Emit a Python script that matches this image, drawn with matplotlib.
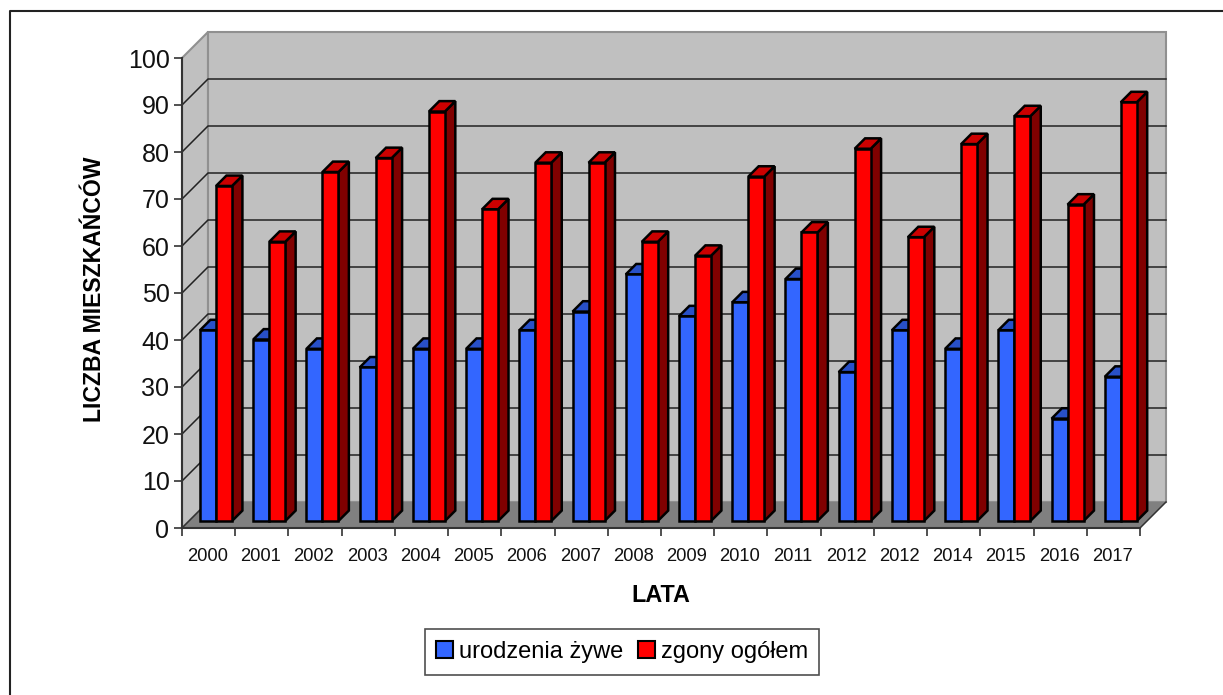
import matplotlib
matplotlib.use("Agg")
import matplotlib.pyplot as plt
from matplotlib.lines import Line2D
from matplotlib.patches import Patch, Polygon

plt.rcParams['font.family'] = ['Liberation Sans', 'DejaVu Sans']

years = ['2000', '2001', '2002', '2003', '2004', '2005', '2006', '2007', '2008',
         '2009', '2010', '2011', '2012', '2012', '2014', '2015', '2016', '2017']
births = [41, 39, 37, 33, 37, 37, 41, 45, 53, 44, 47, 52, 32, 41, 37, 41, 22, 31]
deaths = [72, 60, 75, 78, 88, 67, 77, 77, 60, 57, 74, 62, 80, 61, 81, 87, 68, 90]
y_ticks = list(range(0, 101, 10))

W, H = 1223, 695
fig = plt.figure(figsize=(W / 100, H / 100), dpi=100)
ax = fig.add_axes([182 / W, 1 - 528 / H, (1140 - 182) / W, (528 - 58) / H])
ax.set_xlim(0, len(years))
ax.set_ylim(0, 100)
ax.patch.set_visible(False)

# size of the 3d depth in data units
dx = 26 / (958 / len(years))
dy = 26 / (470 / 100)


def pt(x, v, d=0.0):
    return (x + d * dx, v + d * dy)


def face(points, color, edge='black', lw=1.8, z=3):
    ax.add_patch(Polygon(points, closed=True, facecolor=color, edgecolor=edge,
                         linewidth=lw, joinstyle='miter', clip_on=False, zorder=z))


n = len(years)
# walls and floor
face([pt(0, 0), pt(0, 100), pt(0, 100, 1), pt(0, 0, 1)], '#C0C0C0', '#909090', 1.5, 1)
face([pt(0, 0, 1), pt(0, 100, 1), pt(n, 100, 1), pt(n, 0, 1)], '#C0C0C0', '#909090', 1.5, 1)
face([pt(0, 0), pt(n, 0), pt(n, 0, 1), pt(0, 0, 1)], '#808080', 'none', 0, 1)
for v in y_ticks[1:-1]:
    ax.plot(*zip(pt(0, v), pt(0, v, 1), pt(n, v, 1)), color='#222222', lw=1.1,
            clip_on=False, zorder=2)
ax.plot(*zip(pt(n, 0), pt(n, 0, 1)), color='#333333', lw=1.1, clip_on=False, zorder=2)
ax.plot(*zip(pt(0, 0), pt(0, 0, 1)), color='#333333', lw=1.1, clip_on=False, zorder=2)

# bars, scale of the bars is a bit flatter than the axis
bar_w = 16 / (958 / n)
d0, d1 = 0.27, 0.67
scale = 0.99


def bar(x, v, front, top, side, z):
    v = v * scale
    face([pt(x + bar_w, 0, d0), pt(x + bar_w, v, d0), pt(x + bar_w, v, d1), pt(x + bar_w, 0, d1)], side, z=z)
    face([pt(x, v, d0), pt(x + bar_w, v, d0), pt(x + bar_w, v, d1), pt(x, v, d1)], top, z=z)
    face([pt(x, 0, d0), pt(x + bar_w, 0, d0), pt(x + bar_w, v, d0), pt(x, v, d0)], front, z=z)


for i in range(n):
    x0 = i + 11 / (958 / n)
    bar(x0, births[i], '#3366FF', '#2850C8', '#1F3F99', 3 + i * 0.01)
    bar(x0 + bar_w, deaths[i], '#FF0000', '#CC0000', '#800000', 3 + i * 0.01 + 0.005)

# axes
for s in ['top', 'right']:
    ax.spines[s].set_visible(False)
for s in ['left', 'bottom']:
    ax.spines[s].set_color('#333333')
    ax.spines[s].set_linewidth(1.5)
    ax.spines[s].set_zorder(5)
ax.set_yticks(y_ticks)
ax.tick_params(axis='y', labelsize=18, length=6, width=1.2, color='#333333', pad=3, labelcolor='#111111')
ax.set_xticks(range(n + 1))
ax.set_xticklabels([])
ax.tick_params(axis='x', length=6, width=1.2, color='#333333')
for i, y in enumerate(years):
    ax.text(i + 0.48, -4.3, y, ha='center', va='top', fontsize=13.2, color='#111111', clip_on=False)

fig.text(661 / W, 1 - 595.5 / H, 'LATA', ha='center', va='center', fontsize=16.8, fontweight='bold')
fig.text(94.5 / W, 1 - 289.5 / H, 'LICZBA MIESZKAŃCÓW', ha='center', va='center', rotation=90,
         fontsize=16.6, fontweight='bold')

# outer chart border
fig.add_artist(Line2D([9.5 / W, 9.5 / W, 1], [0, 1 - 10.5 / H, 1 - 10.5 / H], color='#222222', lw=1.5))

handles = [Patch(facecolor='#3366FF', edgecolor='black', linewidth=1.5, label='urodzenia żywe'),
           Patch(facecolor='#FF0000', edgecolor='black', linewidth=1.5, label='zgony ogółem')]
leg = fig.legend(handles=handles, ncol=2, loc='center', bbox_to_anchor=(622 / W, 1 - 652 / H),
                 fontsize=17, frameon=True, fancybox=False, edgecolor='#222222',
                 handlelength=0.72, handleheight=0.72, handletextpad=0.25, columnspacing=0.6,
                 borderpad=0.5, borderaxespad=0)
leg.get_frame().set_linewidth(1.2)

fig.savefig('out.png', dpi=100)
